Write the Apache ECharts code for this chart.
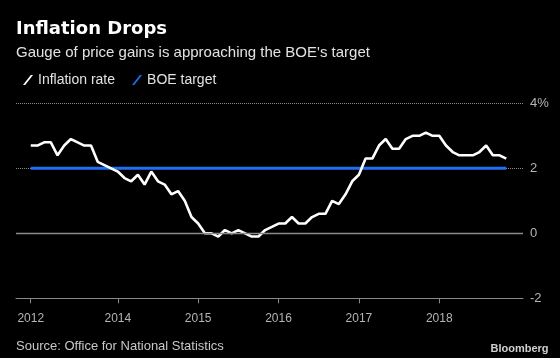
<!DOCTYPE html>
<html>
<head>
<meta charset="utf-8">
<script src="https://cdn.jsdelivr.net/npm/echarts@6/dist/echarts.min.js"></script>
<style>
html,body{margin:0;padding:0;background:#000;}
#chart{width:560px;height:358px;}
</style>
</head>
<body>
<div id="chart"></div>
<script>
// Monthly UK CPI, Dec 2012 .. Nov 2018
const startYear = 2012, startMonth = 12;
const inflationRate = [
  2.7,
  2.7, 2.8, 2.8, 2.4, 2.7, 2.9, 2.8, 2.7, 2.7, 2.2, 2.1, 2.0,
  1.9, 1.7, 1.6, 1.8, 1.5, 1.9, 1.6, 1.5, 1.2, 1.3, 1.0, 0.5,
  0.3, 0.0, 0.0, -0.1, 0.1, 0.0, 0.1, 0.0, -0.1, -0.1, 0.1, 0.2,
  0.3, 0.3, 0.5, 0.3, 0.3, 0.5, 0.6, 0.6, 1.0, 0.9, 1.2, 1.6,
  1.8, 2.3, 2.3, 2.7, 2.9, 2.6, 2.6, 2.9, 3.0, 3.0, 3.1, 3.0,
  3.0, 2.7, 2.5, 2.4, 2.4, 2.4, 2.5, 2.7, 2.4, 2.4, 2.3
];
const boeTargetLevel = 2;
const tickMonths = ['2012-12', '2014-01', '2015-01', '2016-01', '2017-01', '2018-01'];
const tickLabels = ['2012', '2014', '2015', '2016', '2017', '2018'];

// month categories
const months = [];
for (let i = 0; i < inflationRate.length; i++) {
  const m0 = startMonth - 1 + i;
  const y = startYear + Math.floor(m0 / 12);
  const m = (m0 % 12) + 1;
  months.push(y + '-' + (m < 10 ? '0' + m : m));
}
const tickIdx = tickMonths.map(t => months.indexOf(t));
const inflationData = inflationRate.map((v, i) => [i, v]);
const targetData = [[0, boeTargetLevel], [months.length - 1, boeTargetLevel]];

const chart = echarts.init(document.getElementById('chart'), null, {renderer: 'canvas'});
const BLUE = '#1f6ff0';
chart.setOption({
  backgroundColor: '#000',
  animation: false,
  title: [
    {text: 'Inflation Drops', left: 16, top: 20, padding: 0,
     textStyle: {color: '#fff', fontSize: 18, fontWeight: 'bold', fontFamily: 'DejaVu Sans'}},
    {text: "Gauge of price gains is approaching the BOE's target", left: 16, top: 45.5, padding: 0,
     textStyle: {color: '#e2e2e2', fontSize: 15, fontWeight: 'normal', fontFamily: 'Liberation Sans'}},
    {text: 'Source: Office for National Statistics', left: 16, top: 339.5, padding: 0,
     textStyle: {color: '#c8c8c8', fontSize: 13, fontWeight: 'normal', fontFamily: 'Liberation Sans'}},
    {text: 'Bloomberg', right: 11.5, top: 343.5, padding: 0,
     textStyle: {color: '#d0d0d0', fontSize: 11, fontWeight: 'bold', fontFamily: 'Liberation Sans'}}
  ],
  legend: {
    left: 23, top: 73, padding: 0,
    itemWidth: 10, itemHeight: 10, itemGap: 17,
    icon: 'path://M0,10 L2.2,10 L10,0 L7.8,0 Z',
    textStyle: {color: '#e2e2e2', fontSize: 14, fontFamily: 'Liberation Sans'},
    data: ['Inflation rate', 'BOE target']
  },
  grid: {left: 16, right: 37, top: 103.3, bottom: 59.7},
  xAxis: {
    type: 'value', min: -2.2, max: 73.5,
    splitLine: {show: false},
    axisLine: {show: true, onZero: false, lineStyle: {color: '#8a8a8a', width: 1}},
    axisTick: {show: true, length: 5, lineStyle: {color: '#8a8a8a'}, customValues: tickIdx},
    axisLabel: {
      color: '#b4b4b4', fontSize: 12, fontFamily: 'Liberation Sans', margin: 14,
      customValues: tickIdx,
      formatter: v => tickLabels[tickIdx.indexOf(Math.round(v))] || ''
    }
  },
  yAxis: {
    type: 'value', position: 'right', min: -2, max: 4, interval: 2,
    axisLine: {show: false}, axisTick: {show: false},
    splitLine: {show: true, lineStyle: {color: '#8a8a8a', type: 'dotted', width: 1}},
    axisLabel: {
      color: '#b4b4b4', fontSize: 13, fontFamily: 'Liberation Sans', margin: 7,
      formatter: v => v === 4 ? '4%' : String(v)
    }
  },
  series: [
    {
      name: 'Inflation rate', type: 'line', data: inflationData,
      symbol: 'none', z: 4,
      itemStyle: {color: '#ffffff'},
      lineStyle: {color: '#ffffff', width: 2.6},
      markLine: {
        silent: true, symbol: 'none', label: {show: false},
        lineStyle: {color: '#8a8a8a', type: 'solid', width: 1.3},
        data: [{yAxis: 0}]
      }
    },
    {
      name: 'BOE target', type: 'line', data: targetData,
      symbol: 'none', z: 3,
      itemStyle: {color: BLUE},
      lineStyle: {color: BLUE, width: 3}
    }
  ]
});
</script>
</body>
</html>
